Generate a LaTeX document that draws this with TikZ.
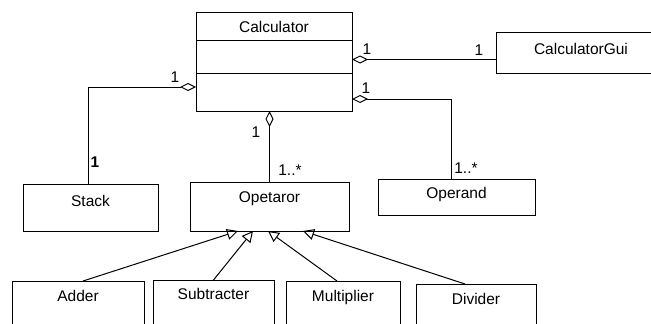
\documentclass[tikz,border=0pt]{standalone}
\usepackage{fontspec}
\newfontfamily\umlfont{Liberation Sans}
\usetikzlibrary{arrows.meta}
\tikzset{
  umltext/.style={font=\umlfont\fontsize{15.5}{18}\selectfont},
  cls/.style={draw, line width=1pt, inner sep=0pt, outer sep=0pt, minimum width=#1},
  ctext/.style={umltext, anchor=north, yshift=-9.5pt, inner sep=0pt},
  mult/.style={umltext, inner sep=0pt},
  conn/.style={line width=1pt},
  agg/.style={conn, {Diamond[open, length=16pt, width=8pt, line width=1pt]}-},
  gen/.style={conn, -{Triangle[open, length=11pt, width=11pt, line width=1pt]}}
}
\begin{document}
\begin{tikzpicture}[x=1pt, y=-1pt]
\useasboundingbox (0,0) rectangle (651,324);
\clip (0,0) rectangle (651,324);
% classes
\node[cls=156, minimum height=99, label={[ctext, yshift=0.5pt]north:Calculator}] (calc) at (274,61.5) {};
\draw[conn] ([yshift=-28pt]calc.north west) -- ([yshift=-28pt]calc.north east);
\draw[conn] ([yshift=-61pt]calc.north west) -- ([yshift=-61pt]calc.north east);
\node[cls=170, minimum height=41, label={[ctext, yshift=-1.5pt]north:CalculatorGui}] (gui) at (581,52.5) {};
\node[cls=135, minimum height=47, label={[ctext, yshift=-1.5pt]north:Stack}] (stack) at (90.5,207.5) {};
\node[cls=159, minimum height=49, label={[ctext]north:Opetaror}] (oper) at (269.5,206.5) {};
\node[cls=157, minimum height=36, label={[ctext, yshift=1.5pt]north:Operand}] (operand) at (456.5,197) {};
\node[cls=132, minimum height=60, label={[ctext]north:Adder}] (adder) at (78,311) {};
\node[cls=121, minimum height=60, label={[ctext, yshift=1.5pt]north:Subtracter}] (sub) at (213.5,310) {};
\node[cls=114, minimum height=60, label={[ctext]north:Multiplier}] (mul) at (343,311) {};
\node[cls=120, minimum height=60, label={[ctext]north:Divider}] (div) at (476,314) {};
% aggregations
\coordinate (g0) at ([yshift=-47.5pt]calc.north east);
\draw[agg] (g0) -- (g0 -| gui.west);
\draw[agg] ([yshift=-87pt]calc.north east) -| ([xshift=-5.5pt]operand.north);
\draw[agg] ([yshift=-75pt]calc.north west) -| ([xshift=-2.5pt]stack.north);
\draw[agg] (calc.south -| oper.north) -- (oper.north);
% generalizations
\draw[gen] ([xshift=5pt]adder.north) -- ([xshift=-31.5pt]oper.south);
\draw[gen] (sub.north) -- ([xshift=-16.5pt]oper.south);
\draw[gen] ([xshift=-6pt]mul.north) -- ([xshift=-1.5pt]oper.south);
\draw[gen] ([xshift=-11pt]div.north) -- ([xshift=33.5pt]oper.south);
% multiplicities
\node[mult] (m1) at (367,49) {1};
\node[mult] (m2) at (479,50) {1};
\node[mult] (m3) at (366,88) {1};
\node[mult] (m4) at (466,168) {1..*};
\node[mult] (m5) at (175,77) {1};
\node[mult] (m6) at (95,162) {\bfseries 1};
\node[mult] (m7) at (256,132) {1};
\node[mult] (m8) at (290,170) {1..*};
\end{tikzpicture}
\end{document}
